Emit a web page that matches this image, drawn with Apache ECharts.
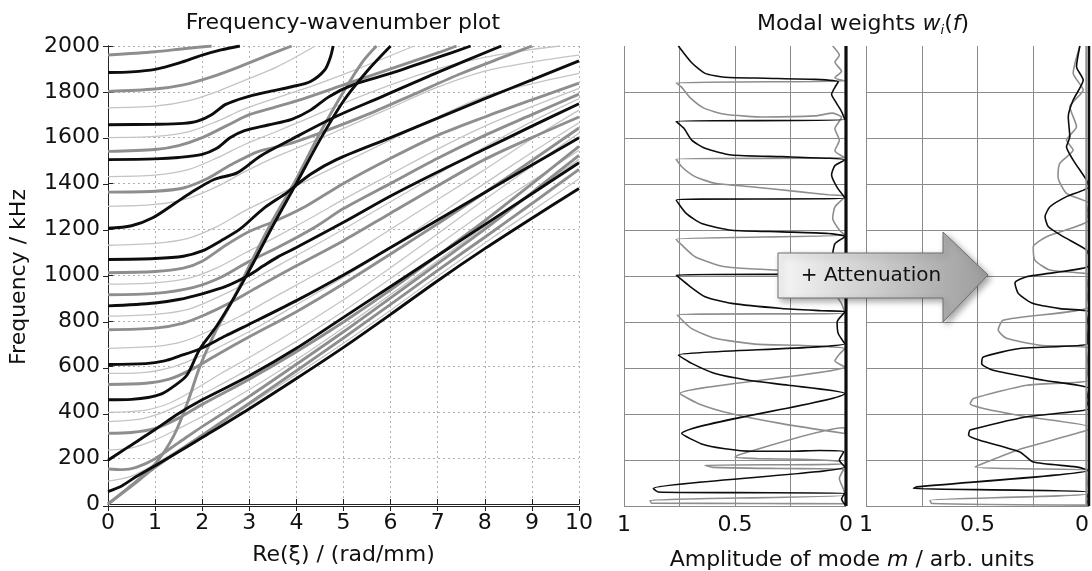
<!DOCTYPE html>
<html>
<head>
<meta charset="utf-8">
<script src="https://cdn.jsdelivr.net/npm/echarts@6/dist/echarts.min.js"></script>
<style>
html, body { margin: 0; padding: 0; background: #fff; }
#chart { width: 1092px; height: 571px; }
</style>
</head>
<body>
<div id="chart"></div>
<script>
// dispersion curves, points are [Re(xi) rad/mm, f kHz]
var fkBlack = [
  [[0,54],[0.3,80],[0.6,120],[1,167],[1.5,228],[2,290],[3,416],[4,548],[5,684],[6,828],[7,975],[8,1115],[9,1248],[10,1378]],
  [[0,191],[0.4,245],[1,325],[1.5,395],[2,455],[3,560],[4,680],[5,815],[6,950],[7,1085],[8,1220],[9,1355],[10,1490]],
  [[0,455],[0.5,457],[0.85,465],[1.15,482],[1.4,515],[1.67,561],[1.95,677],[2.3,775],[2.66,895],[3,1020],[3.5,1215],[4,1400],[4.5,1590],[5,1760],[5.5,1890],[6,2000]],
  [[0,609],[0.8,613],[1.2,625],[1.5,645],[1.95,677],[2.5,735],[3,785],[4,888],[5,1000],[6,1120],[7,1240],[8,1360],[9,1480],[10,1599]],
  [[0,865],[1,878],[1.5,893],[2,918],[2.5,950],[3,1000],[3.3,1040],[3.6,1078],[4,1120],[5,1230],[6,1345],[7,1450],[8,1550],[9,1650],[10,1748]],
  [[0,1068],[1,1072],[1.6,1082],[2,1105],[2.4,1150],[2.8,1200],[3.3,1290],[3.8,1360],[4.3,1440],[4.85,1504],[6,1600],[7,1685],[8,1770],[9,1852],[10,1935]],
  [[0,1204],[0.5,1215],[0.95,1250],[1.4,1310],[1.76,1359],[2.25,1417],[2.74,1446],[3.23,1519],[3.88,1591],[4.85,1693],[5.83,1780],[7,1885],[8.35,2000]],
  [[0,1504],[1,1507],[1.5,1513],[2,1527],[2.3,1552],[2.6,1600],[2.9,1630],[3.4,1655],[3.9,1680],[4.3,1720],[4.7,1780],[5.2,1830],[6,1880],[7,1950],[7.7,2000]],
  [[0,1656],[1,1658],[1.6,1662],[1.9,1672],[2.2,1700],[2.5,1745],[2.9,1775],[3.4,1800],[3.9,1822],[4.3,1845],[4.6,1895],[4.72,1950],[4.78,2000]],
  [[0,1884],[0.5,1887],[1,1898],[1.5,1925],[2,1960],[2.4,1983],[2.8,2000]]
];
var fkGray = [
  [[0,0],[0.5,78],[1,160],[2,300],[3,440],[4,582],[5,725],[6,872],[7,1020],[8,1165],[9,1312],[10,1461]],
  [[0,153],[0.3,150],[0.6,160],[1,198],[1.5,268],[2,338],[3,470],[4,610],[5,752],[6,900],[7,1050],[8,1200],[9,1360],[10,1522]],
  [[0,309],[0.5,312],[1,330],[1.5,375],[2,435],[3,545],[4,665],[5,795],[6,935],[7,1085],[8,1237],[9,1398],[10,1562]],
  [[0,522],[0.8,527],[1.3,545],[1.8,590],[2.3,650],[3,730],[4,840],[5,962],[6,1092],[7,1224],[8,1360],[9,1500],[10,1642]],
  [[0,761],[1,768],[1.6,790],[2.1,830],[2.6,880],[3.2,950],[4,1040],[5,1150],[6,1270],[7,1390],[8,1505],[9,1600],[10,1690]],
  [[0,914],[1,920],[1.8,945],[2.4,990],[3,1060],[3.6,1120],[4.4,1210],[5,1290],[6,1400],[7,1510],[8,1610],[9,1700],[10,1790]],
  [[0,1010],[1,1015],[1.6,1030],[2,1060],[2.5,1130],[3,1190],[3.6,1240],[4.2,1300],[5,1400],[6,1510],[7,1610],[8,1690],[9,1765],[10,1838]],
  [[0,1362],[1,1366],[1.6,1380],[2.1,1420],[2.6,1480],[3.2,1540],[3.8,1570],[4.5,1620],[5.5,1700],[6.5,1790],[7.5,1880],[8.5,1960],[9,2000]],
  [[0,1540],[1,1548],[1.5,1565],[2,1600],[2.5,1650],[3,1700],[3.5,1730],[4,1760],[5,1830],[6,1900],[7,1970],[7.4,2000]],
  [[0,1802],[1,1812],[1.6,1830],[2.2,1865],[2.8,1910],[3.4,1960],[3.9,2000]],
  [[0,1961],[1,1975],[1.6,1988],[2.2,2000]],
  [[0,0],[0.5,82],[1,175],[1.4,300],[1.7,450],[1.95,600],[2.3,760],[2.66,895],[3,1040],[3.5,1240],[4,1420],[4.5,1620],[5,1800],[5.4,1930],[5.7,2000]]
];
var fkLight = [
  [[0,100],[0.5,122],[1,175],[2,302],[3,432],[4,566],[5,702],[6,846],[7,995],[8,1140],[9,1280],[10,1420]],
  [[0,235],[0.5,245],[1,280],[1.5,330],[2,382],[3,500],[4,630],[5,770],[6,915],[7,1062],[8,1212],[9,1358],[10,1505]],
  [[0,360],[0.6,368],[1.1,395],[1.6,440],[2.2,500],[3,590],[4,710],[5,842],[6,985],[7,1130],[8,1275],[9,1410],[10,1545]],
  [[0,400],[0.8,410],[1.3,440],[1.8,495],[2.4,570],[3,640],[4,762],[5,892],[6,1032],[7,1180],[8,1330],[9,1475],[10,1620]],
  [[0,570],[0.8,575],[1.4,600],[1.9,640],[2.5,700],[3.2,775],[4,870],[5,990],[6,1120],[7,1260],[8,1400],[9,1535],[10,1665]],
  [[0,680],[1,688],[1.6,710],[2.2,760],[2.8,820],[3.5,900],[4.3,990],[5,1070],[6,1200],[7,1330],[8,1460],[9,1595],[10,1720]],
  [[0,820],[1,828],[1.7,850],[2.3,900],[2.9,960],[3.6,1040],[4.4,1130],[5,1200],[6,1320],[7,1440],[8,1560],[9,1670],[10,1770]],
  [[0,960],[1,966],[1.7,985],[2.3,1030],[2.9,1095],[3.6,1170],[4.4,1260],[5,1330],[6,1440],[7,1550],[8,1650],[9,1735],[10,1815]],
  [[0,1130],[1,1138],[1.7,1160],[2.3,1210],[2.9,1280],[3.5,1340],[4.2,1410],[5,1490],[6,1590],[7,1690],[8,1780],[9,1835],[10,1880]],
  [[0,1300],[1,1308],[1.7,1335],[2.3,1385],[2.9,1450],[3.5,1510],[4.2,1570],[5,1640],[6,1730],[7,1820],[8,1890],[9,1930],[10,1960]],
  [[0,1430],[1,1436],[1.7,1460],[2.3,1510],[2.9,1570],[3.5,1620],[4.2,1680],[5,1750],[6,1830],[7,1900],[8,1950],[9,1985],[9.6,2000]],
  [[0,1600],[1,1605],[1.7,1625],[2.3,1670],[2.9,1725],[3.6,1775],[4.4,1830],[5.3,1900],[6.5,2000]],
  [[0,1730],[1,1737],[1.7,1760],[2.3,1800],[2.9,1850],[3.6,1910],[4.4,2000]]
];

// modal weights, points are [amplitude, f kHz]
var wBlack = [[0.755,2000],[0.695,1927],[0.635,1881],[0.545,1864],[0.365,1860],[0.14,1855],[0.035,1845],
  [0.05,1820],[0.065,1790],[0.045,1755],[0.02,1715],[0.005,1680],
  [0.765,1672],[0.73,1642],[0.695,1591],[0.635,1555],[0.515,1526],[0.29,1519],[0.08,1512],[0.005,1505],
  [0.05,1480],[0.065,1440],[0.04,1385],[0.005,1340],
  [0.765,1330],[0.72,1272],[0.65,1228],[0.515,1199],[0.29,1192],[0.08,1185],[0.005,1172],
  [0.05,1140],[0.06,1090],[0.03,1040],[0.005,1010],
  [0.765,1004],[0.71,960],[0.635,910],[0.515,881],[0.29,859],[0.11,849],[0.005,844],
  [0.04,800],[0.035,750],[0.005,705],
  [0.755,656],[0.695,620],[0.59,576],[0.44,547],[0.26,525],[0.005,489],
  [0.74,315],[0.65,270],[0.545,249],[0.42,238],[0.25,238],[0.12,241],[0.01,236],
  [0.03,200],[0.005,170],
  [0.868,76],[0.845,61],[0.5,58],[0.005,56],[0.02,30],[0,0]];
var wGray = [[0.06,2000],[0.03,1960],[0.05,1930],[0.02,1890],[0.05,1862],[0.005,1848],
  [0.765,1840],[0.74,1820],[0.7,1773],[0.64,1730],[0.545,1703],[0.365,1691],[0.14,1696],[0.06,1708],[0.02,1690],
  [0.05,1640],[0.03,1590],[0.05,1545],[0.005,1515],
  [0.765,1508],[0.74,1475],[0.68,1432],[0.59,1403],[0.44,1389],[0.215,1367],[0.08,1353],[0.005,1346],
  [0.05,1300],[0.06,1250],[0.03,1200],[0.005,1178],
  [0.765,1160],[0.74,1135],[0.68,1084],[0.545,1040],[0.32,1026],[0.08,1019],[0.005,1012],
  [0.04,980],[0.05,930],[0.02,880],[0.005,840],
  [0.76,830],[0.695,771],[0.59,729],[0.41,704],[0.215,699],[0.065,692],[0.005,685],
  [0.03,660],[0.05,630],[0.005,605],
  [0.748,489],[0.665,445],[0.515,401],[0.29,358],[0.005,315],
  [0.01,340],[0.485,222],[0.5,212],[0.4,206],[0.2,203],[0.03,195],[0.02,182],
  [0.635,177],[0.6,168],[0.3,163],[0.01,160],
  [0.03,120],[0.01,70],[0.005,47],
  [0.883,25],[0.875,12],[0.4,11],[0,10]];
var wBlackAtt = [[0.041,2000],[0.056,1910],[0.026,1852],[0.071,1765],[0.093,1692],[0.086,1605],[0.101,1562],[0.071,1504],[0.011,1417],[0,1388],
  [0.101,1345],[0.175,1301],[0.197,1258],[0.182,1214],[0.115,1171],[0.011,1113],[0,1084],[0.005,1040],
  [0.28,997],[0.332,970],[0.317,924],[0.25,880],[0.13,858],[0,844],[0.01,780],[0.005,707],
  [0.31,685],[0.474,648],[0.481,619],[0.43,590],[0.205,547],[0,510],[0.01,460],[0,424],
  [0.279,388],[0.533,330],[0.54,308],[0.49,286],[0.31,235],[0.25,191],[0.058,170],[0,155],
  [0.772,83],[0.787,76],[0,61],[0.01,30],[0,0]];
var wGrayAtt = [[0.041,2000],[0.071,1881],[0.026,1809],[0.086,1736],[0.056,1649],[0.101,1591],[0.071,1548],[0.131,1490],[0.139,1432],[0.101,1359],[0,1316],[0.01,1270],[0,1243],
  [0.19,1171],[0.25,1127],[0.243,1069],[0.175,1026],[0,1004],[0.01,940],[0,866],
  [0.385,808],[0.407,765],[0.37,729],[0.22,699],[0,685],[0.01,600],[0,547],
  [0.279,525],[0.518,467],[0.533,445],[0.473,424],[0.279,388],[0,344],[0.005,330],
  [0.3,250],[0.459,191],[0.511,170],[0.3,162],[0,155],[0.005,100],[0,54],
  [0.713,25],[0.705,11],[0,4]];
var zeroLine = [[0,0],[0,2000]];

var F = '"DejaVu Sans", sans-serif';
var BLACK = '#0d0d0d', GRAY = '#8e8e8e', LIGHT = '#c4c4c4', GRID_R = '#8a8a8a';

var chart = echarts.init(document.getElementById('chart'));

function curve(data, grid, color, width, smooth) {
  return {
    type: 'line', data: data, xAxisIndex: grid, yAxisIndex: grid,
    showSymbol: false, smooth: smooth, animation: false, silent: true,
    lineStyle: { color: color, width: width }
  };
}

var series = [];
fkLight.forEach(function (c) { series.push(curve(c, 0, LIGHT, 1.3, 0.3)); });
fkGray.forEach(function (c) { series.push(curve(c, 0, GRAY, 2.9, 0.3)); });
fkBlack.forEach(function (c) { series.push(curve(c, 0, BLACK, 2.9, 0.3)); });
series.push(curve(wGray, 2, GRAY, 1.6, 0.2));
series.push(curve(wBlack, 2, BLACK, 1.6, 0.2));
series.push(curve(zeroLine, 2, BLACK, 3.2, false));
series.push(curve(wGrayAtt, 4, GRAY, 1.6, 0.2));
series.push(curve(wBlackAtt, 4, BLACK, 1.6, 0.2));
series.push(curve([[0.012,0],[0.012,2000]], 4, GRAY, 2, false));
series.push(curve(zeroLine, 4, BLACK, 2.5, false));

var tickLabel = { fontSize: 22, color: '#111', fontFamily: F };
function ampLabel(v) { return (v === 0 || v === 0.5 || v === 1) ? String(v) : ''; }
function plain(v) { return String(v); }

var option = {
  backgroundColor: '#fff',
  animation: false,
  title: [
    { text: 'Frequency-wavenumber plot', left: 338, top: 7, textAlign: 'center',
      textStyle: { fontSize: 22, fontWeight: 'normal', color: '#111', fontFamily: F } },
    { text: 'Modal weights {it|w}{sub|i}({it|f})', left: 858, top: 7, textAlign: 'center',
      textStyle: { fontSize: 22, fontWeight: 'normal', color: '#111', fontFamily: F,
        rich: {
          it: { fontSize: 22, fontStyle: 'italic', color: '#111', fontFamily: F },
          sub: { fontSize: 13, fontStyle: 'italic', color: '#111', fontFamily: F, verticalAlign: 'bottom', padding: [12, 0, 0, 0] }
        } } },
    { text: 'Amplitude of mode {it|m} / arb. units', left: 847, top: 544, textAlign: 'center',
      textStyle: { fontSize: 22, fontWeight: 'normal', color: '#111', fontFamily: F,
        rich: { it: { fontSize: 22, fontStyle: 'italic', color: '#111', fontFamily: F } } } }
  ],
  grid: [
    { left: 108, top: 46, width: 471, height: 460 },
    { left: 108, top: 46, width: 471, height: 460 },
    { left: 624, top: 46, width: 222, height: 460 },
    { left: 624, top: 46, width: 222, height: 460 },
    { left: 866, top: 46, width: 223, height: 460 }
  ],
  xAxis: [
    { gridIndex: 0, type: 'value', min: 0, max: 10, interval: 1,
      axisLine: { lineStyle: { color: '#222' } },
      axisTick: { inside: true, length: 5, lineStyle: { color: '#222' } },
      axisLabel: Object.assign({ margin: 8, formatter: plain }, tickLabel),
      splitLine: { show: true, lineStyle: { color: '#b0b0b0', type: [2, 3] } },
      name: 'Re(ξ) / (rad/mm)', nameLocation: 'middle', nameGap: 40,
      nameTextStyle: { fontSize: 22, color: '#111', fontFamily: F } },
    { gridIndex: 1, type: 'value', min: 0, max: 10, interval: 1, position: 'top',
      axisLine: { lineStyle: { color: '#222' } },
      axisTick: { inside: true, length: 5, lineStyle: { color: '#222' } },
      axisLabel: { show: false }, splitLine: { show: false } },
    { gridIndex: 2, type: 'value', min: 0, max: 1, interval: 0.25, inverse: true,
      axisLine: { show: false }, axisTick: { show: false },
      axisLabel: Object.assign({ margin: 8, formatter: ampLabel }, tickLabel),
      splitLine: { show: true, lineStyle: { color: GRID_R, width: 1 } } },
    { gridIndex: 3, type: 'value', min: 0, max: 1, show: false },
    { gridIndex: 4, type: 'value', min: 0, max: 1, interval: 0.25, inverse: true,
      axisLine: { show: false }, axisTick: { show: false },
      axisLabel: Object.assign({ margin: 8, formatter: ampLabel, alignMinLabel: 'right' }, tickLabel),
      splitLine: { show: true, lineStyle: { color: GRID_R, width: 1 } } }
  ],
  yAxis: [
    { gridIndex: 0, type: 'value', min: 0, max: 2000, interval: 200,
      axisLine: { show: true, lineStyle: { color: '#222' } },
      axisTick: { show: true, inside: true, length: 5, lineStyle: { color: '#222' } },
      axisLabel: Object.assign({ margin: 8, formatter: plain }, tickLabel),
      splitLine: { show: true, lineStyle: { color: '#b0b0b0', type: [2, 3] } } },
    { gridIndex: 1, type: 'value', min: 0, max: 2000, interval: 200, position: 'right',
      axisLine: { show: true, lineStyle: { color: '#222' } },
      axisTick: { show: true, inside: true, length: 5, lineStyle: { color: '#222' } },
      axisLabel: { show: false }, splitLine: { show: false } },
    { gridIndex: 2, type: 'value', min: 0, max: 2000, interval: 200,
      axisLine: { show: false }, axisTick: { show: false }, axisLabel: { show: false },
      splitLine: { show: true, showMaxLine: false, lineStyle: { color: GRID_R, width: 1 } } },
    { gridIndex: 3, type: 'value', min: 0, max: 2000, show: false },
    { gridIndex: 4, type: 'value', min: 0, max: 2000, interval: 200,
      axisLine: { show: false }, axisTick: { show: false }, axisLabel: { show: false },
      splitLine: { show: true, showMaxLine: false, lineStyle: { color: GRID_R, width: 1 } } }
  ],
  graphic: [
    { type: 'text', x: 19, y: 277, rotation: Math.PI / 2, z: 50,
      style: { text: 'Frequency / kHz', font: '22px ' + F, fill: '#111', align: 'center', verticalAlign: 'middle' } },
    { type: 'polygon', z: 100,
      shape: { points: [[778, 253], [943, 253], [943, 232], [988, 275], [943, 322], [943, 298], [778, 298]] },
      style: {
        fill: new echarts.graphic.LinearGradient(0, 0, 1, 0, [
          { offset: 0, color: '#f6f6f6' }, { offset: 1, color: '#9c9c9c' }
        ]),
        stroke: '#6e6e6e', lineWidth: 1,
        shadowBlur: 6, shadowColor: 'rgba(0,0,0,0.35)', shadowOffsetX: 3, shadowOffsetY: 3
      } },
    { type: 'text', x: 871, y: 276, z: 101,
      style: { text: '+ Attenuation', font: '20px ' + F, fill: '#111', align: 'center', verticalAlign: 'middle' } }
  ],
  series: series
};

chart.setOption(option);
</script>
</body>
</html>
